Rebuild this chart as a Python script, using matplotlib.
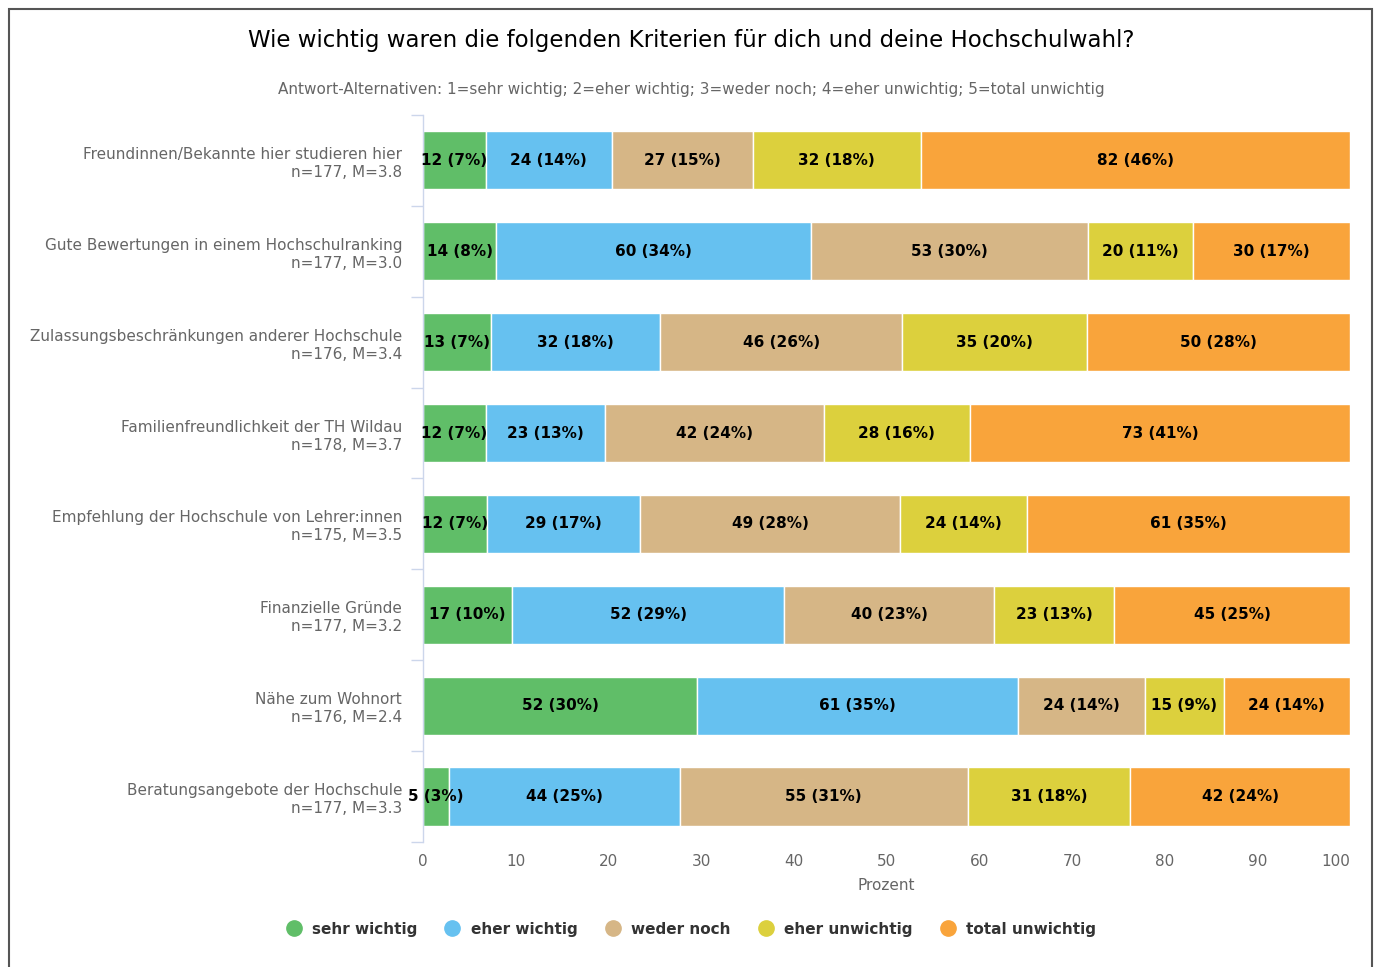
#!/usr/bin/env python
# -*- coding: utf-8 -*-

#!------------------------------------------------------------------------------
#!                                   MODULES
#!------------------------------------------------------------------------------
import numpy
import matplotlib
matplotlib.use("Agg")
from matplotlib import pyplot as plt
from matplotlib.patches import Rectangle
from matplotlib.lines import Line2D

#!------------------------------------------------------------------------------
#!                                    DATA
#!------------------------------------------------------------------------------
categories = [
    "Freundinnen/Bekannte hier studieren hier",
    "Gute Bewertungen in einem Hochschulranking",
    "Zulassungsbeschränkungen anderer Hochschule",
    "Familienfreundlichkeit der TH Wildau",
    "Empfehlung der Hochschule von Lehrer:innen",
    "Finanzielle Gründe",
    "Nähe zum Wohnort",
    "Beratungsangebote der Hochschule",
]
stats = ["n=177, M=3.8", "n=177, M=3.0", "n=176, M=3.4", "n=178, M=3.7",
         "n=175, M=3.5", "n=177, M=3.2", "n=176, M=2.4", "n=177, M=3.3"]

series = ["sehr wichtig", "eher wichtig", "weder noch", "eher unwichtig",
          "total unwichtig"]
sehr_wichtig = [12, 14, 13, 12, 12, 17, 52, 5]
eher_wichtig = [24, 60, 32, 23, 29, 52, 61, 44]
weder_noch = [27, 53, 46, 42, 49, 40, 24, 55]
eher_unwichtig = [32, 20, 35, 28, 24, 23, 15, 31]
total_unwichtig = [82, 30, 50, 73, 61, 45, 24, 42]

colors = ["#60be68", "#66c1f0", "#d6b686", "#dcd03d", "#f9a43b"]
xticks = [0, 10, 20, 30, 40, 50, 60, 70, 80, 90, 100]

#!------------------------------------------------------------------------------
#!                             FUNCTION DEFINITION
#!------------------------------------------------------------------------------
def plot_chart():
    counts = numpy.array([sehr_wichtig, eher_wichtig, weder_noch,
                          eher_unwichtig, total_unwichtig], dtype=float)
    totals = counts.sum(axis=0)
    pct = counts / totals * 100

    fig = plt.figure(figsize=(13.77, 9.67), dpi=100)
    ax = fig.add_axes([0.3072, 0.1293, 0.6732, 0.7518])

    y = numpy.arange(len(categories))
    left = numpy.zeros(len(categories))
    for k, name in enumerate(series):
        ax.barh(y, pct[k], left=left, height=0.64, color=colors[k],
                edgecolor="white", linewidth=1, label=name)
        for i in range(len(categories)):
            txt = "%d (%d%%)" % (counts[k, i], round(pct[k, i]))
            ax.text(left[i] + pct[k, i] / 2, y[i], txt, ha="center",
                    va="center", fontsize=11, fontweight="bold",
                    color="black")
        left += pct[k]

    ax.set_xlim(0, 100)
    ax.set_ylim(len(categories) - 0.5, -0.5)

    # y axis: labels + tick marks between categories
    ax.set_yticks(y)
    ax.set_yticklabels(["%s\n%s" % (c, s) for c, s in zip(categories, stats)],
                       fontsize=11, color="#666666", linespacing=1.25)
    ax.tick_params(axis="y", which="major", length=0, pad=15)
    ax.set_yticks(numpy.arange(-0.5, len(categories), 1.0), minor=True)
    ax.tick_params(axis="y", which="minor", length=9, width=1,
                   color="#ccd6eb")

    ax.set_xticks(xticks)
    ax.tick_params(axis="x", length=0, labelsize=11, labelcolor="#666666",
                   pad=9)
    ax.get_xticklabels()[-1].set_horizontalalignment("right")
    ax.set_xlabel("Prozent", fontsize=11, color="#666666", labelpad=6)

    for side in ["top", "right", "bottom"]:
        ax.spines[side].set_visible(False)
    ax.spines["left"].set_color("#ccd6eb")
    ax.spines["left"].set_linewidth(1)

    fig.text(0.502, 0.958, "Wie wichtig waren die folgenden Kriterien für "
             "dich und deine Hochschulwahl?", ha="center", va="center",
             fontsize=16.5, color="black")
    fig.text(0.502, 0.907, "Antwort-Alternativen: 1=sehr wichtig; "
             "2=eher wichtig; 3=weder noch; 4=eher unwichtig; "
             "5=total unwichtig", ha="center", va="center", fontsize=11,
             color="#666666")

    handles = [Line2D([], [], marker="o", linestyle="none", markersize=11,
                      markerfacecolor=c, markeredgecolor=c) for c in colors]
    leg = fig.legend(handles, series, loc="center", ncol=5,
                     bbox_to_anchor=(0.499, 0.039), frameon=False,
                     handletextpad=0.2, columnspacing=1.3,
                     prop={"size": 11, "weight": "bold"})
    for t in leg.get_texts():
        t.set_color("#333333")

    # outer frame
    fig.patches.append(Rectangle((9 / 1377., -0.05), 1363 / 1377., 1.041,
                                 transform=fig.transFigure, fill=False,
                                 edgecolor="#555555", linewidth=1.5))

    fig.savefig("out.png", dpi=100, facecolor="white")


#!------------------------------------------------------------------------------
#!                                MAIN FUNCTION
#!------------------------------------------------------------------------------
def main():
    plot_chart()


if __name__ == '__main__':
    main()
